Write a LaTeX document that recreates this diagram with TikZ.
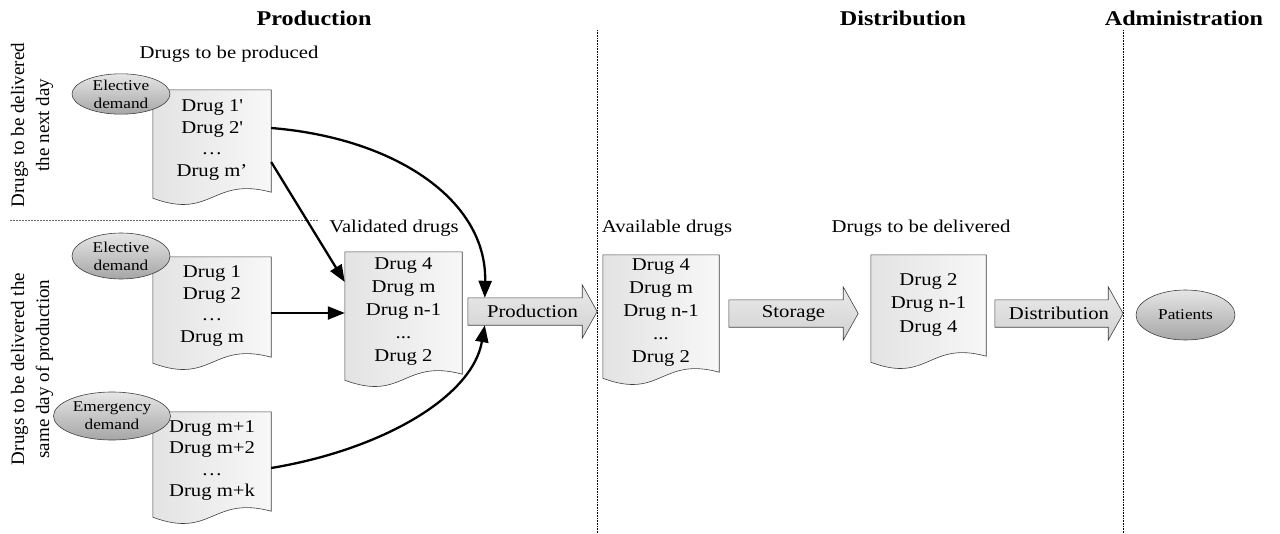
\documentclass[tikz,border=0pt]{standalone}
\usepackage{fontspec}
\setmainfont{Liberation Serif}[FakeStretch=1.15]
\newfontfamily\rotfont{Liberation Serif}
\usetikzlibrary{arrows.meta,backgrounds,calc,shapes.geometric}
\newcommand\docshape[1]{%
  \begin{scope}[on background layer]
  \draw[docsty] let \p1=(#1.north west), \p2=(#1.south east), \n1={0.5*\x1+0.5*\x2} in
    (\x1,\y1) -- (\x2,\y1) -- (\x2,\y2-2pt)
    .. controls (\n1,\y2+14pt) and (\n1,\y2-30pt) .. (\x1,\y2-8pt) -- cycle;
  \end{scope}}
\newcommand\blockarr[1]{%
  \begin{scope}[on background layer]
  \draw[barrowsty] (#1.north west) -- ([xshift=-15pt]#1.north east)
    -- ([xshift=-15pt,yshift=13pt]#1.north east) -- (#1.east)
    -- ([xshift=-15pt,yshift=-13pt]#1.south east) -- ([xshift=-15pt]#1.south east)
    -- (#1.south west) -- cycle;
  \end{scope}}
\begin{document}
\begin{tikzpicture}[x=1pt,y=-1pt,
  docnode/.style={rectangle, inner sep=0pt, align=center, font=\fontsize{18}{21.5}\selectfont},
  docsty/.style={draw=black!75, line width=0.6pt, left color=black!11, right color=black!3},
  ell/.style={ellipse, draw=black!75, line width=0.6pt, top color=black!10, bottom color=black!35,
    inner sep=0pt, align=center, font=\fontsize{15}{18}\selectfont},
  barrow/.style={rectangle, inner sep=0pt, font=\fontsize{18}{21}\selectfont},
  barrowsty/.style={draw=black!75, line width=0.6pt, top color=black!8, middle color=white, bottom color=black!18},
  conn/.style={line width=2.3pt, -{Triangle[length=17pt,width=13pt]}},
  hdr/.style={font=\bfseries\fontsize{21}{24}\selectfont, anchor=base},
  lbl/.style={font=\fontsize{18}{21}\selectfont, anchor=base},
  rot/.style={font=\rotfont\fontsize{19}{25}\selectfont, rotate=90, align=center},
  vsep/.style={densely dotted, line width=0.6pt},
  hsep/.style={dash pattern=on 2pt off 1pt, draw=black!60, line width=0.8pt}
]
\useasboundingbox (0,0) rectangle (1280,533);

% headers
\node[hdr] (hprod) at (314,25) {Production};
\node[hdr] (hdist) at (903,25) {Distribution};
\node[hdr] (hadm) at (1184,25) {Administration};

% separators
\coordinate (v1a) at (597,30); \coordinate (v1b) at (597,533);
\coordinate (v2a) at (1123,30); \coordinate (v2b) at (1123,533);
\coordinate (h1a) at (10,220); \coordinate (h1b) at (318,220);
\draw[vsep] (v1a) -- (v1b);
\draw[vsep] (v2a) -- (v2b);
\draw[hsep] (h1a) -- (h1b);

% side labels
\node[rot] (side1) at (32,125) {Drugs to be delivered\\the next day};
\node[rot] (side2) at (32,369) {Drugs to be delivered the\\same day of production};

% labels
\node[lbl] (lprod) at (229,58) {Drugs to be produced};
\node[lbl] (lval) at (394,232) {Validated drugs};
\node[lbl] (lavail) at (667,232) {Available drugs};
\node[lbl] (ldel) at (921,232) {Drugs to be delivered};

% documents
\node[docnode, minimum width=118pt, minimum height=100pt] (doc1) at (212,140)
  {Drug 1\textquotesingle\\Drug 2\textquotesingle\\…\\Drug m’};
\node[docnode, minimum width=118pt, minimum height=98pt] (doc2) at (212,306)
  {Drug 1\\Drug 2\\…\\Drug m};
\node[docnode, minimum width=118pt, minimum height=97pt] (doc3) at (212,460.5)
  {Drug m+1\\Drug m+2\\…\\Drug m+k};
\node[docnode, minimum width=117pt, minimum height=120pt, font=\fontsize{18}{23}\selectfont] (valid) at (403.5,312)
  {Drug 4\\Drug m\\Drug n-1\\...\\Drug 2};
\node[docnode, minimum width=116pt, minimum height=115pt, font=\fontsize{18}{23}\selectfont] (avail) at (661,312.5)
  {Drug 4\\Drug m\\Drug n-1\\...\\Drug 2};
\node[docnode, minimum width=115pt, minimum height=99pt, font=\fontsize{18}{23.5}\selectfont] (deliv) at (928.5,304.5)
  {Drug 2\\Drug n-1\\Drug 4};
\docshape{doc1}\docshape{doc2}\docshape{doc3}
\docshape{valid}\docshape{avail}\docshape{deliv}

% ellipses
\node[ell, minimum width=98pt, minimum height=40pt] (e1) at (121,94) {Elective\\demand};
\node[ell, minimum width=98pt, minimum height=46pt] (e2) at (121,256) {Elective\\demand};
\node[ell, minimum width=117pt, minimum height=48pt] (e3) at (112,416) {Emergency\\demand};
\node[ell, minimum width=99pt, minimum height=50pt] (pat) at (1185.5,315) {Patients};

% block arrows
\node[barrow, minimum width=129pt, minimum height=27pt] (prod) at (532.5,311.5) {Production};
\node[barrow, minimum width=129pt, minimum height=27pt] (stor) at (793.5,313.5) {Storage};
\node[barrow, minimum width=128pt, minimum height=27pt] (dist) at (1059,313.5) {Distribution};
\blockarr{prod}\blockarr{stor}\blockarr{dist}

% connectors
\coordinate (a1s) at ([yshift=12pt]doc1.east);
\coordinate (a1e) at ([xshift=17pt]prod.north west);
\draw[conn] (a1s) .. controls (395,138) and (487,200) .. (a1e);
\coordinate (a2s) at ([yshift=-22pt]doc1.east);
\coordinate (a2e) at ([yshift=30pt]valid.west);
\draw[conn] (a2s) -- (a2e);
\coordinate (a3s) at ([yshift=-7pt]doc2.east);
\draw[conn] (a3s) -- (a3s -| valid.west);
\coordinate (a4s) at ([yshift=-7.5pt]doc3.east);
\coordinate (a4e) at ([xshift=17pt]prod.south west);
\draw[conn] (a4s) .. controls (380,450) and (472,398) .. (a4e);
\end{tikzpicture}
\end{document}
